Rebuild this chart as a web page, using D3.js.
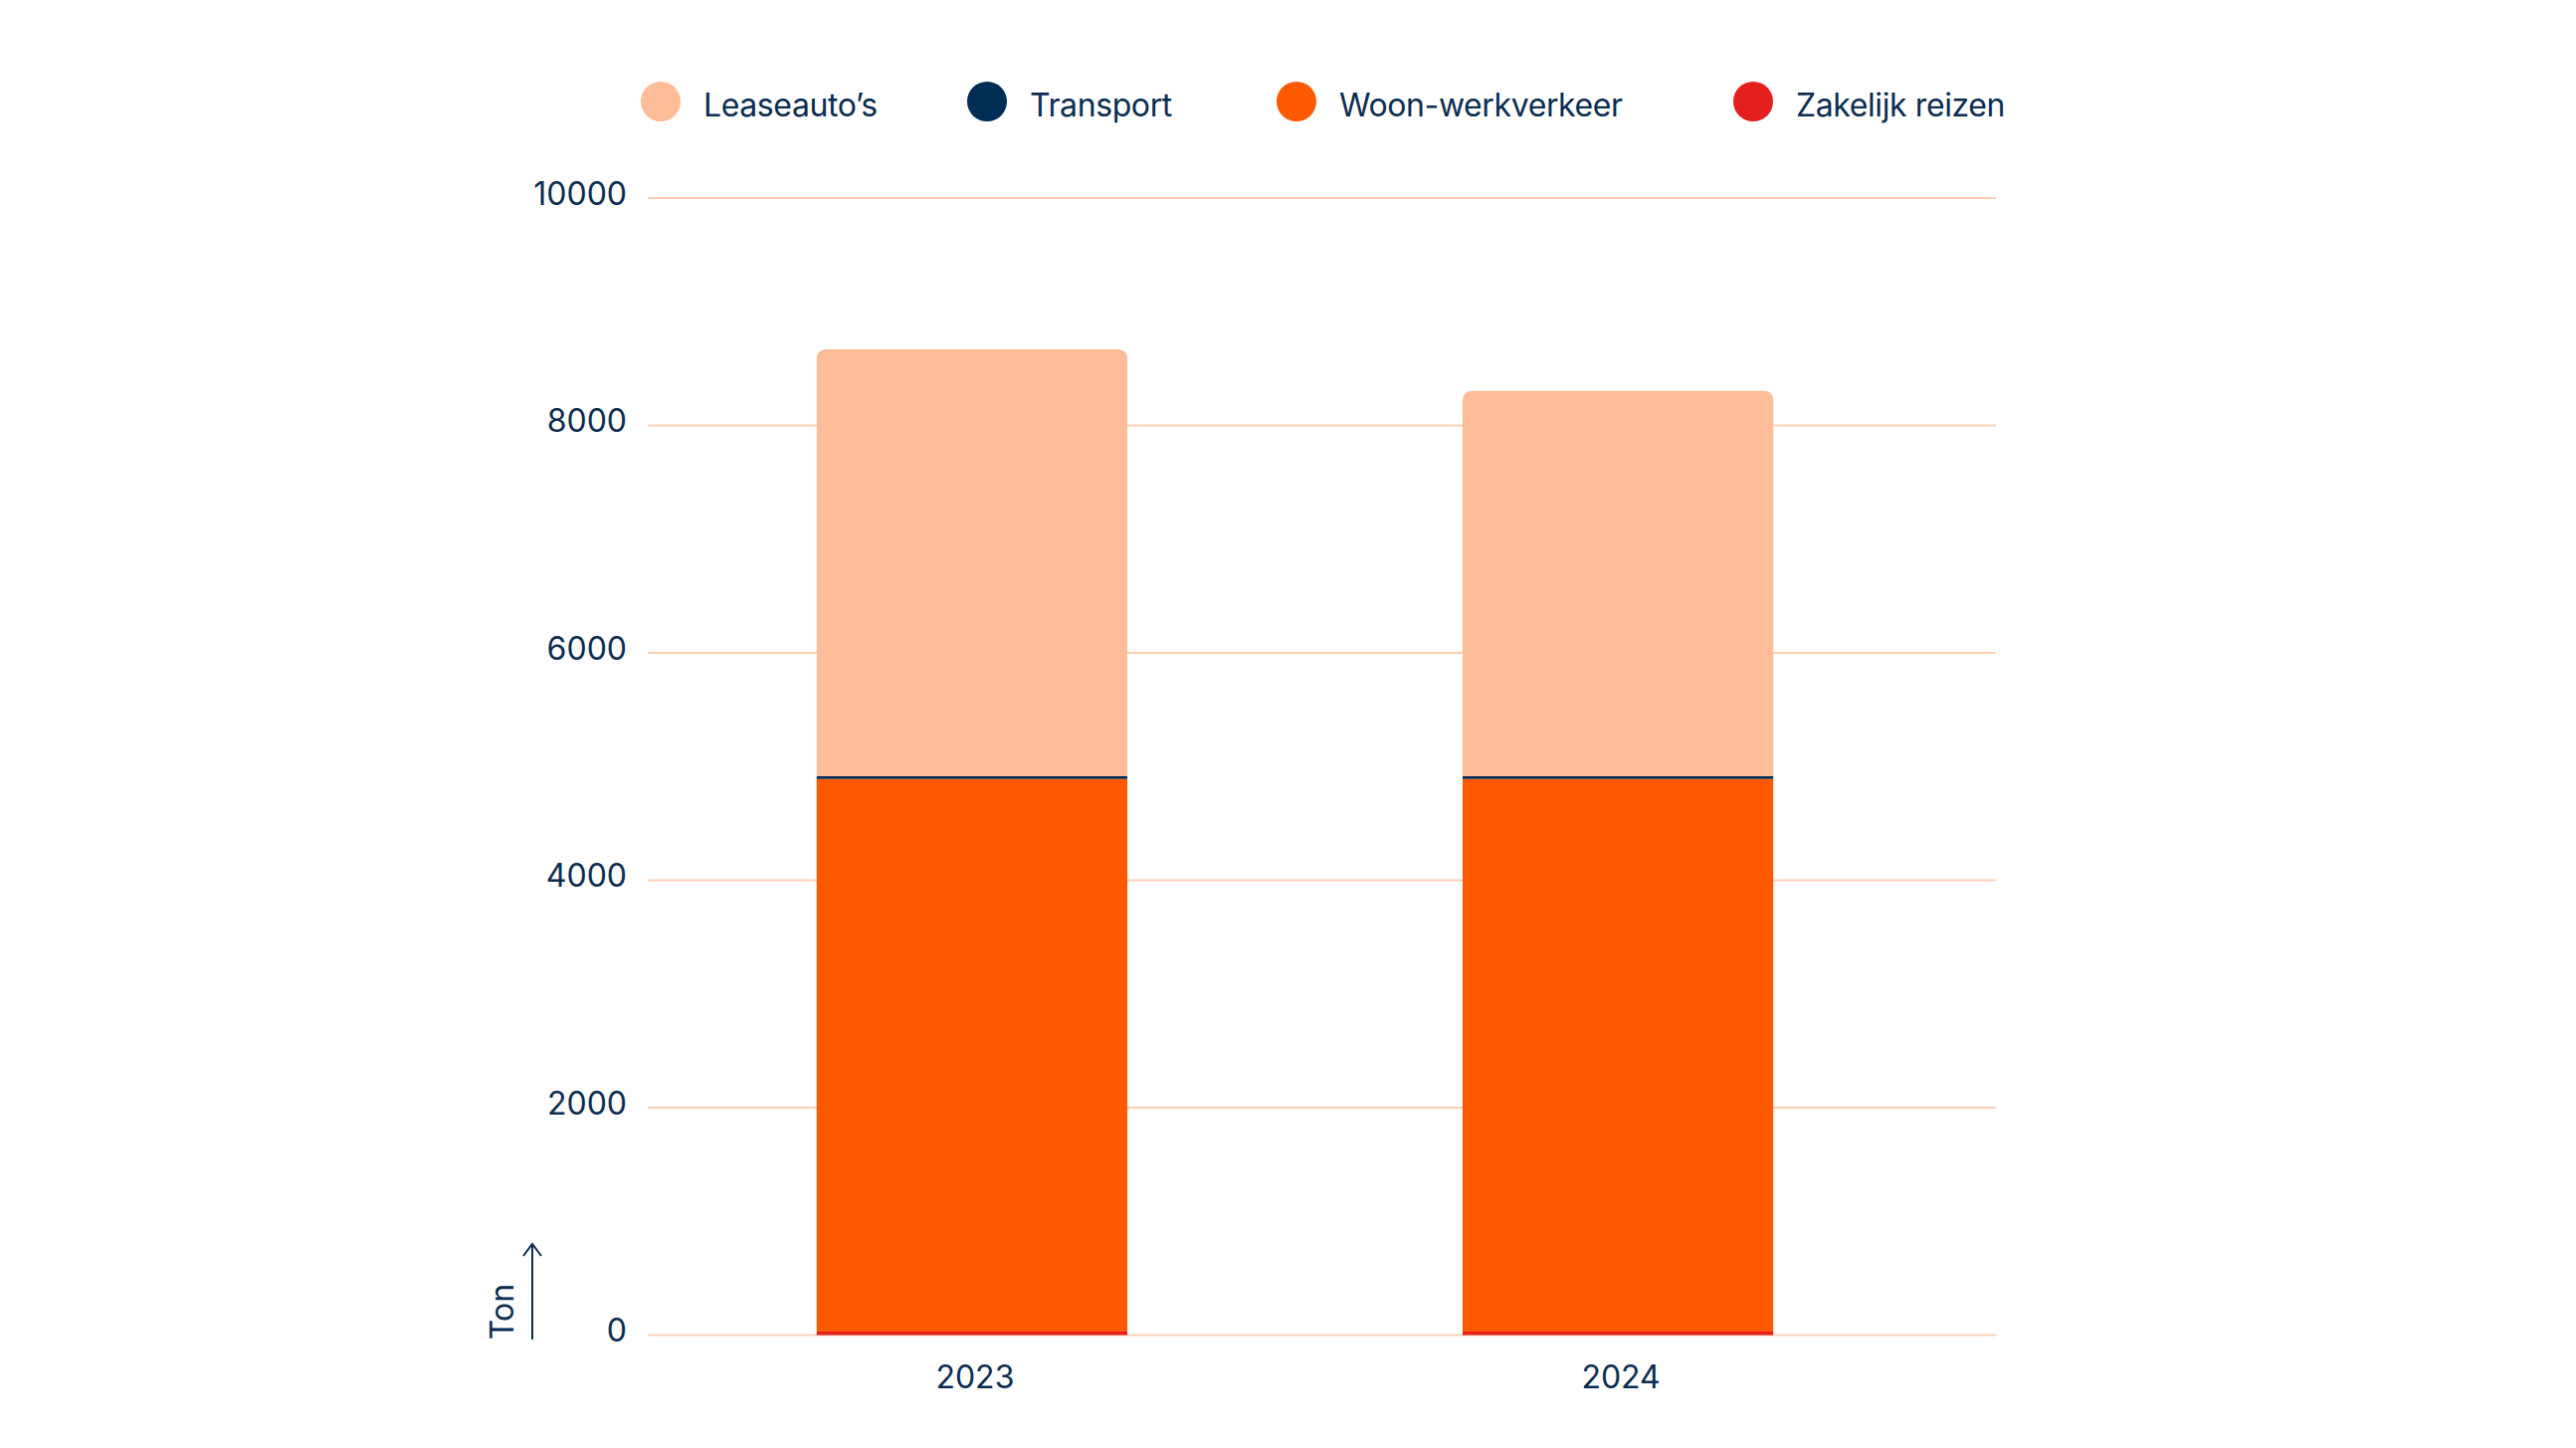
<!DOCTYPE html>
<html>
<head>
<meta charset="utf-8">
<script src="https://cdn.jsdelivr.net/npm/d3@7"></script>
<style>
  body { margin: 0; background: #fff; }
  text { font-family: Inter, "Noto Sans", sans-serif; fill: #0b2d52; }
</style>
</head>
<body>
<svg id="svg"></svg>
<script>
// Data (ton)
const years = ["2023", "2024"];
const series = ["Zakelijk reizen", "Woon-werkverkeer", "Transport", "Leaseauto’s"];
const zakelijk = [30, 30];
const woonWerk = [4860, 4860];
const transport = [25, 25];
const lease = [3755, 3390];
const yTicks = [0, 2000, 4000, 6000, 8000, 10000];
const legendOrder = ["Leaseauto’s", "Transport", "Woon-werkverkeer", "Zakelijk reizen"];

const colors = {
  "Leaseauto’s": "#ffbc98",
  "Transport": "#002d55",
  "Woon-werkverkeer": "#ff5a00",
  "Zakelijk reizen": "#e51e1e"
};

const width = 2589, height = 1455;
const svg = d3.select("#svg").attr("width", width).attr("height", height);

const rows = years.map((y, i) => ({
  year: y,
  "Zakelijk reizen": zakelijk[i],
  "Woon-werkverkeer": woonWerk[i],
  "Transport": transport[i],
  "Leaseauto’s": lease[i]
}));

const x = d3.scaleBand().domain(years).range([652, 1951]).paddingInner(0.519).paddingOuter(0.26);
const y = d3.scaleLinear().domain([0, 10000]).range([1341.5, 199]);

// gridlines
svg.append("g").selectAll("line")
  .data(yTicks)
  .enter()
  .append("line")
  .attr("x1", 651).attr("x2", 2006)
  .attr("y1", d => y(d)).attr("y2", d => y(d))
  .attr("stroke", "#ffcfb3")
  .attr("stroke-width", 2);

// tick labels
svg.append("g").selectAll("text")
  .data(yTicks)
  .enter()
  .append("text")
  .attr("x", 630)
  .attr("y", d => y(d) - 5)
  .attr("text-anchor", "end")
  .attr("dominant-baseline", "central")
  .attr("font-size", 32)
  .text(d => d);

// stacked bars
const stack = d3.stack().keys(series);
const stacked = stack(rows);
const r = 10;

stacked.forEach((layer, li) => {
  const isTop = li === stacked.length - 1;
  svg.append("g").selectAll("path")
    .data(layer)
    .enter()
    .append("path")
    .attr("fill", colors[layer.key])
    .attr("d", d => {
      const x0 = x(d.data.year), w = x.bandwidth();
      const y0 = y(d[0]), y1 = y(d[1]);
      if (!isTop) return `M${x0},${y0}V${y1}H${x0 + w}V${y0}Z`;
      return `M${x0},${y0}V${y1 + r}Q${x0},${y1} ${x0 + r},${y1}H${x0 + w - r}Q${x0 + w},${y1} ${x0 + w},${y1 + r}V${y0}Z`;
    });
});

// x labels
svg.append("g").selectAll("text")
  .data(years)
  .enter()
  .append("text")
  .attr("x", d => x(d) + x.bandwidth() / 2 + 3)
  .attr("y", 1383)
  .attr("text-anchor", "middle")
  .attr("dominant-baseline", "central")
  .attr("font-size", 32)
  .text(d => d);

// y axis title with arrow
svg.append("text")
  .attr("transform", "translate(504,1318) rotate(-90)")
  .attr("text-anchor", "middle")
  .attr("dominant-baseline", "central")
  .attr("font-size", 32)
  .text("Ton");

const arrow = svg.append("g").attr("stroke", "#0b2d52").attr("stroke-width", 2).attr("fill", "none");
arrow.append("line").attr("x1", 535).attr("x2", 535).attr("y1", 1346).attr("y2", 1250);
arrow.append("path").attr("d", "M526,1262L535,1250L544,1262");

// legend
const legendX = [664, 992, 1303, 1762];
const legend = svg.append("g");
legendOrder.forEach((k, i) => {
  const row = legend.append("g").attr("transform", `translate(${legendX[i]}, 102)`);
  row.append("circle").attr("r", 20).attr("fill", colors[k]);
  row.append("text")
    .attr("x", 43)
    .attr("y", 3)
    .attr("dominant-baseline", "central")
    .attr("font-size", 32)
    .attr("letter-spacing", -0.4)
    .text(k);
});
</script>
</body>
</html>
